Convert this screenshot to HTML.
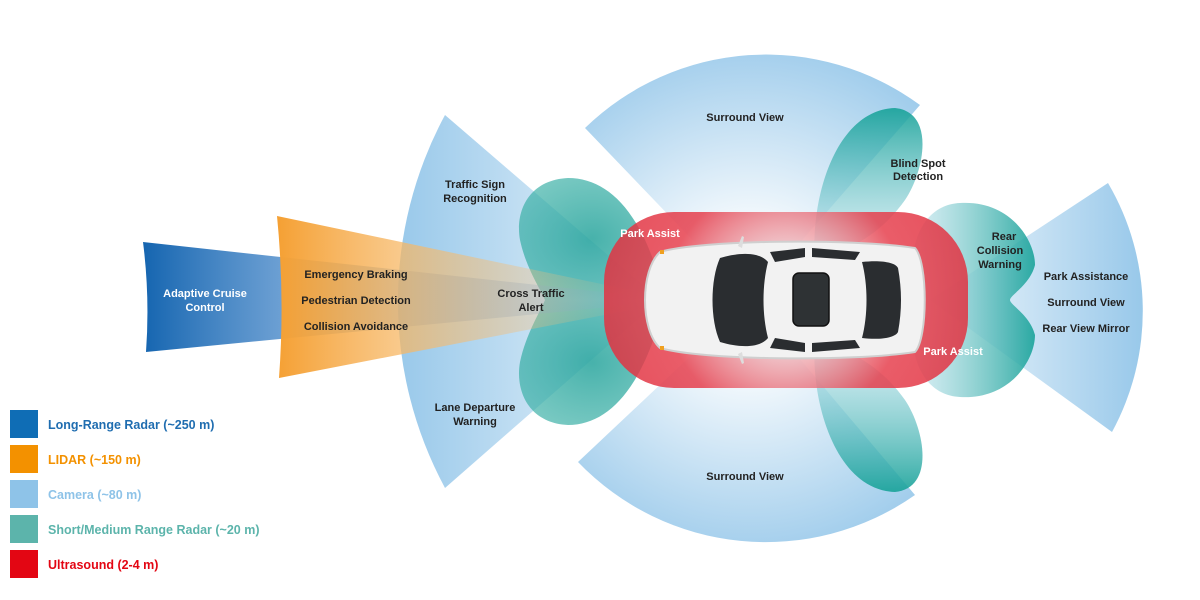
<!DOCTYPE html>
<html><head><meta charset="utf-8"><style>
html,body{margin:0;padding:0;background:#fff;width:1200px;height:600px;overflow:hidden}
svg text{font-family:"Liberation Sans",sans-serif}
</style></head><body>
<svg width="1200" height="600" viewBox="0 0 1200 600" xmlns="http://www.w3.org/2000/svg">
<defs>
<radialGradient id="sv" cx="750" cy="300" r="260" gradientUnits="userSpaceOnUse">
<stop offset="0.3" stop-color="#8ec3e8" stop-opacity="0.1"/><stop offset="1" stop-color="#8ec3e8" stop-opacity="0.85"/></radialGradient>
<linearGradient id="camL" x1="400" y1="0" x2="660" y2="0" gradientUnits="userSpaceOnUse">
<stop offset="0" stop-color="#8ec3e8" stop-opacity="0.9"/><stop offset="1" stop-color="#8ec3e8" stop-opacity="0.15"/></linearGradient>
<linearGradient id="camR" x1="1140" y1="0" x2="930" y2="0" gradientUnits="userSpaceOnUse">
<stop offset="0" stop-color="#8ec3e8" stop-opacity="0.9"/><stop offset="1" stop-color="#8ec3e8" stop-opacity="0.1"/></linearGradient>
<linearGradient id="lrr" x1="143" y1="0" x2="620" y2="0" gradientUnits="userSpaceOnUse">
<stop offset="0" stop-color="#1565b0"/><stop offset="0.35" stop-color="#5b95d0" stop-opacity="0.8"/><stop offset="1" stop-color="#7aa8d8" stop-opacity="0.1"/></linearGradient>
<linearGradient id="lid" x1="277" y1="0" x2="620" y2="0" gradientUnits="userSpaceOnUse">
<stop offset="0" stop-color="#f5a033"/><stop offset="0.4" stop-color="#f7b866" stop-opacity="0.7"/><stop offset="1" stop-color="#f7c080" stop-opacity="0.05"/></linearGradient>
<radialGradient id="tealG" cx="0.5" cy="0.5" r="0.6">
<stop offset="0" stop-color="#1b9f97" stop-opacity="0.95"/><stop offset="1" stop-color="#3fb2a8" stop-opacity="0.8"/></radialGradient>
<linearGradient id="tealR" x1="910" y1="0" x2="1035" y2="0" gradientUnits="userSpaceOnUse">
<stop offset="0" stop-color="#bfe3ee" stop-opacity="0.6"/><stop offset="1" stop-color="#1aa39a"/></linearGradient>
<linearGradient id="tealB" x1="0" y1="110" x2="0" y2="260" gradientUnits="userSpaceOnUse">
<stop offset="0" stop-color="#1aa39a"/><stop offset="1" stop-color="#9fd6e6" stop-opacity="0.4"/></linearGradient>
<linearGradient id="tealB2" x1="0" y1="490" x2="0" y2="340" gradientUnits="userSpaceOnUse">
<stop offset="0" stop-color="#1aa39a"/><stop offset="1" stop-color="#9fd6e6" stop-opacity="0.4"/></linearGradient>
<radialGradient id="red" cx="786" cy="300" r="200" gradientUnits="userSpaceOnUse">
<stop offset="0.2" stop-color="#f0c8cc" stop-opacity="0.7"/><stop offset="0.6" stop-color="#e6404e" stop-opacity="0.85"/><stop offset="1" stop-color="#e02f3e" stop-opacity="0.85"/></radialGradient>
</defs>

<path d="M750,300 L585,128 A260 260 0 0 1 920,105 Z" fill="url(#sv)"/>
<path d="M750,300 L578,462 A260 260 0 0 0 915,495 Z" fill="url(#sv)"/>
<path d="M660,300 L445,115 A393 393 0 0 0 445,488 Z" fill="url(#camL)"/>
<path d="M930,300 L1108,183 A253 253 0 0 1 1112,432 Z" fill="url(#camR)"/>
<path d="M665,300 C645,215 610,178 568,178 C528,180 515,212 520,240 C526,268 540,288 545,300 Z" fill="url(#tealG)" opacity="0.85"/>
<path d="M665,300 C645,385 610,425 568,425 C528,423 515,390 520,362 C526,334 540,312 545,300 Z" fill="url(#tealG)" opacity="0.85"/>
<path d="M143,242 Q150,297 146,352 L630,305 L630,295 Z" fill="url(#lrr)"/>
<path d="M277,216 Q285,297 279,378 L630,310 L630,290 Z" fill="url(#lid)"/>
<path d="M815,260 C810,200 835,110 895,108 C935,112 925,170 905,200 C880,235 850,250 815,260 Z" fill="url(#tealB)" opacity="0.9"/>
<path d="M815,340 C810,400 835,490 895,492 C935,488 925,430 905,400 C880,365 850,350 815,340 Z" fill="url(#tealB2)" opacity="0.9"/>
<path d="M915,300 C905,250 920,205 960,203 C1010,200 1035,240 1035,265 C1030,285 1010,295 1010,300 Z" fill="url(#tealR)" opacity="0.9"/>
<path d="M915,300 C905,350 920,395 960,397 C1010,400 1035,360 1035,335 C1030,315 1010,305 1010,300 Z" fill="url(#tealR)" opacity="0.9"/>
<rect x="604" y="212" width="364" height="176" rx="70" fill="url(#red)"/>
<g>
<path d="M660,252 C700,240 850,238 915,248 C928,262 928,338 915,352 C850,362 700,360 660,348 C640,330 640,270 660,252 Z" fill="#f2f2f2" stroke="#cfcfcf" stroke-width="2"/>
<path d="M720,258 C740,252 760,252 768,262 C762,285 762,315 768,338 C760,348 740,348 720,342 C710,320 710,280 720,258 Z" fill="#2a2d30"/>
<path d="M862,262 C880,260 895,262 898,268 C902,290 902,310 898,332 C895,338 880,340 862,338 C868,315 868,285 862,262 Z" fill="#2a2d30"/>
<path d="M770,252 L805,248 L805,257 L775,262 Z" fill="#2a2d30"/>
<path d="M812,248 L860,252 L855,260 L812,257 Z" fill="#2a2d30"/>
<path d="M770,348 L805,352 L805,343 L775,338 Z" fill="#2a2d30"/>
<path d="M812,352 L860,348 L855,340 L812,343 Z" fill="#2a2d30"/>
<rect x="793" y="273" width="36" height="53" rx="6" fill="#2e3234" stroke="#111" stroke-width="1.5"/>
<rect x="660" y="250" width="4" height="4" fill="#f0a020"/><rect x="660" y="346" width="4" height="4" fill="#f0a020"/>
<path d="M738,246 L742,236 L744,237 L742,248 Z" fill="#ddd"/><path d="M738,354 L742,364 L744,363 L742,352 Z" fill="#ddd"/>
</g>
<g font-size="11" font-weight="bold" fill="#222" text-anchor="middle">
<text x="745" y="121">Surround View</text>
<text x="745" y="480">Surround View</text>
<text x="918" y="167">Blind Spot</text><text x="918" y="180">Detection</text>
<text x="475" y="188">Traffic Sign</text><text x="475" y="202">Recognition</text>
<text x="531" y="297">Cross Traffic</text><text x="531" y="311">Alert</text>
<text x="475" y="411">Lane Departure</text><text x="475" y="425">Warning</text>
<text x="356" y="278">Emergency Braking</text>
<text x="356" y="304">Pedestrian Detection</text>
<text x="356" y="330">Collision Avoidance</text>
<text x="1004" y="240">Rear</text><text x="1000" y="254">Collision</text><text x="1000" y="268">Warning</text>
<text x="1086" y="280">Park Assistance</text>
<text x="1086" y="306">Surround View</text>
<text x="1086" y="332">Rear View Mirror</text>
<g fill="#fff"><text x="205" y="297">Adaptive Cruise</text><text x="205" y="311">Control</text>
<text x="650" y="237">Park Assist</text><text x="953" y="355">Park Assist</text></g>
</g>
<g font-size="12.5" font-weight="bold">
<rect x="10" y="410" width="28" height="28" fill="#0f6db5"/><text x="48" y="429" fill="#1f6db0">Long-Range Radar (~250 m)</text>
<rect x="10" y="445" width="28" height="28" fill="#f39100"/><text x="48" y="464" fill="#f39100">LIDAR (~150 m)</text>
<rect x="10" y="480" width="28" height="28" fill="#8ec3e8"/><text x="48" y="499" fill="#8ec3e8">Camera (~80 m)</text>
<rect x="10" y="515" width="28" height="28" fill="#5cb4ab"/><text x="48" y="534" fill="#5cb4ab">Short/Medium Range Radar (~20 m)</text>
<rect x="10" y="550" width="28" height="28" fill="#e30613"/><text x="48" y="569" fill="#e30613">Ultrasound (2-4 m)</text>
</g>
</svg>
</body></html>
